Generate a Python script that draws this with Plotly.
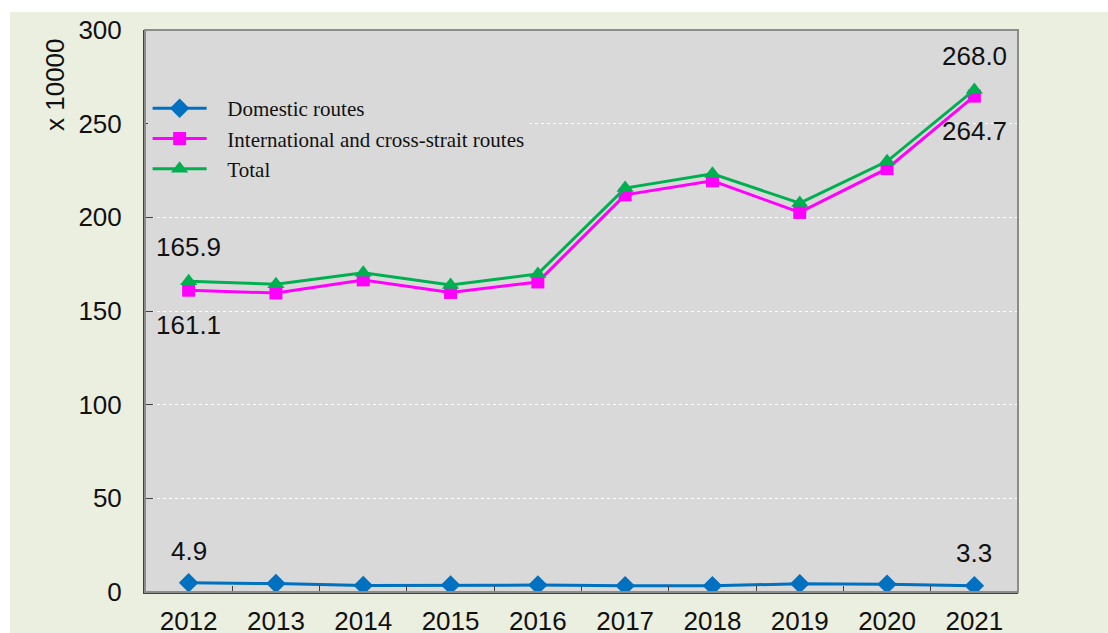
import plotly.graph_objects as go

years = ["2012", "2013", "2014", "2015", "2016", "2017", "2018", "2019", "2020", "2021"]
domestic = [4.9, 4.5, 3.5, 3.8, 3.7, 3.3, 3.3, 4.4, 4.2, 3.3]
international = [161.1, 159.6, 166.6, 159.9, 165.5, 212.0, 219.5, 202.6, 226.0, 264.7]
total = [165.9, 164.3, 170.4, 163.9, 169.8, 215.6, 223.2, 207.6, 229.9, 268.0]

series_names = ["Domestic routes", "International and cross-strait routes", "Total"]
y_ticks = [0, 50, 100, 150, 200, 250, 300]

BLUE = "#0070c0"
PINK = "#ff00ff"
GREEN = "#00b050"
PLOT_BG = "#d9d9d9"
PAGE_BG = "#ebefe0"
SANS = "Liberation Sans, Arial, sans-serif"
SERIF = "Liberation Serif, Times New Roman, serif"

# figure geometry (px)
W, H = 1108, 633
ML, MR, MT, MB = 145, 90, 30, 41
PW, PH = W - ML - MR, H - MT - MB

pad = "\u00a0\u00a0\u00a0"  # gap between legend symbol and text

fig = go.Figure()
fig.add_trace(go.Scatter(
    x=years, y=domestic, name=pad + series_names[0], mode="lines+markers",
    line=dict(color=BLUE, width=3),
    marker=dict(symbol="diamond", size=15, color=BLUE),
))
fig.add_trace(go.Scatter(
    x=years, y=international, name=pad + series_names[1], mode="lines+markers",
    line=dict(color=PINK, width=3),
    marker=dict(symbol="square", size=13, color=PINK),
))
fig.add_trace(go.Scatter(
    x=years, y=total, name=pad + series_names[2], mode="lines+markers",
    line=dict(color=GREEN, width=3),
    marker=dict(symbol="triangle-up", size=15, color=GREEN),
))

label_font = dict(family=SANS, size=26, color="#111111")

# value labels at the first and last year (x given as category index)
n = len(years)
labels = [
    (0, total[0], 34),
    (0, international[0], -35),
    (0, domestic[0], 32),
    (n - 1, total[-1], 34),
    (n - 1, international[-1], -35),
    (n - 1, domestic[-1], 33),
]
for xi, y, dy in labels:
    fig.add_annotation(x=xi, y=y, text=f"{y:.1f}", showarrow=False,
                       xref="x", yref="y", yshift=dy, font=label_font)

# axis unit label
fig.add_annotation(x=(55 - ML) / PW, y=1 - (85 - MT) / PH, xref="paper", yref="paper",
                   xanchor="center", yanchor="middle",
                   text="x 10000", textangle=-90, showarrow=False,
                   font=dict(family=SANS, size=26, color="#111111"))

# white page strips along the top and left edges
fig.add_shape(type="rect", xref="paper", yref="paper",
              x0=-ML / PW, x1=(W - ML) / PW, y0=1 + (MT - 12) / PH, y1=1 + MT / PH,
              fillcolor="white", line=dict(width=0), layer="below")
fig.add_shape(type="rect", xref="paper", yref="paper",
              x0=-ML / PW, x1=(10 - ML) / PW, y0=-MB / PH, y1=1 + MT / PH,
              fillcolor="white", line=dict(width=0), layer="below")
# plot frame
fig.add_shape(type="rect", xref="paper", yref="paper", x0=0, x1=1, y0=0, y1=1,
              line=dict(color="#8c8c8c", width=2), fillcolor="rgba(0,0,0,0)")

fig.update_layout(
    width=W, height=H,
    margin=dict(l=ML, r=MR, t=MT, b=MB, autoexpand=False),
    paper_bgcolor=PAGE_BG,
    plot_bgcolor=PLOT_BG,
    showlegend=True,
    legend=dict(
        x=0.003, y=1 - (88 - MT) / PH, xanchor="left", yanchor="top",
        bgcolor=PLOT_BG, borderwidth=0,
        font=dict(family=SERIF, size=21, color="#111111"),
        itemwidth=54,
    ),
    xaxis=dict(
        type="category", range=[-0.5, n - 0.5], automargin=False,
        showline=True, linecolor="#404040", linewidth=2,
        ticks="inside", tickson="boundaries", ticklen=6, tickcolor="#404040",
        showgrid=False,
        tickfont=dict(family=SANS, size=26, color="#111111"),
        ticklabelstandoff=5,
    ),
    yaxis=dict(
        range=[0, 300], tickvals=y_ticks, automargin=False,
        showline=True, linecolor="#404040", linewidth=2,
        ticks="inside", ticklen=8, tickcolor="#404040",
        showgrid=True, gridcolor="white", griddash="dot", gridwidth=1,
        zeroline=False,
        tickfont=dict(family=SANS, size=26, color="#111111"),
        ticklabelstandoff=16,
    ),
)

fig.write_html("out.html")
